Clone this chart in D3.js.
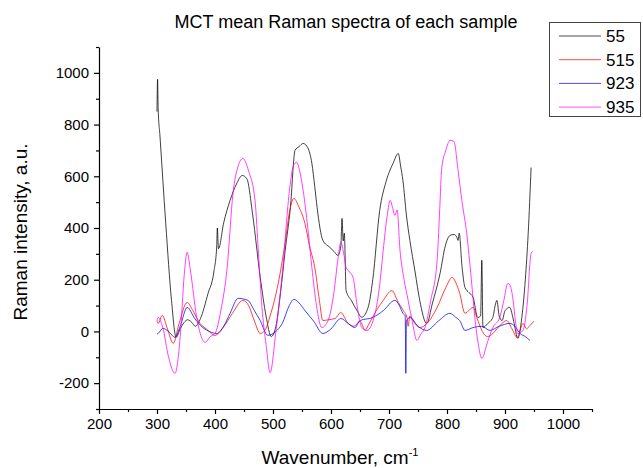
<!DOCTYPE html>
<html>
<head>
<meta charset="utf-8">
<script src="https://cdn.jsdelivr.net/npm/d3@7"></script>
<style>
  html, body { margin: 0; padding: 0; background: #fff; }
  svg { display: block; font-family: "Liberation Sans", Arial, sans-serif; }
</style>
</head>
<body>
<svg id="chart" width="643" height="468"></svg>
<script>
// ---- data ----
const seriesNames = ["55", "515", "923", "935"];
const seriesColors = ["#000000", "#ff0000", "#0000ff", "#ff00ff"];

const s55 = [[300,850],[301,975],[302,860],[305,760],[315,420],[325,120],[333,-23],[340,10],[353,45],[360,35],[366,20],[375,50],[388,147],[398,230],[403,330],[404,400],[406,320],[415,420],[426,507],[437,570],[447,603],[455,590],[465,450],[478,209],[488,60],[497,-20],[505,20],[513,150],[521,313],[530,480],[538,700],[545,715],[552,727],[560,710],[567,650],[572,560],[576,480],[586,352],[598,325],[605,310],[612,294],[617,330],[619,437],[621,350],[623,380],[626,158],[635,120],[645,80],[653,55],[664,93],[672,200],[684,468],[695,580],[707,650],[716,688],[720,640],[724,584],[730,450],[736,352],[745,230],[753,120],[765,31],[775,110],[788,224],[797,330],[805,371],[812,375],[817,364],[819,352],[821,380],[826,248],[831,170],[838,150],[845,132],[853,54],[858,60],[860,275],[862,15],[870,30],[879,54],[883,100],[886,120],[890,60],[895,42],[900,80],[908,93],[915,40],[922,-27],[929,54],[935,200],[940,379],[945,634]];

const s515 = [[300,40],[302,31],[309,62],[318,10],[328,-46],[338,30],[352,112],[362,80],[374,31],[385,10],[400,-15],[414,15],[430,70],[448,120],[458,100],[468,40],[478,-8],[486,4],[495,60],[509,186],[520,330],[530,480],[536,514],[545,480],[555,418],[563,330],[572,248],[580,120],[586,42],[595,45],[607,50],[617,73],[622,60],[628,35],[640,20],[650,40],[659,4],[664,23],[678,80],[690,120],[705,158],[716,112],[725,80],[731,54],[733,20],[736,60],[745,30],[753,15],[765,30],[783,93],[798,170],[809,209],[815,190],[822,147],[831,70],[845,93],[852,50],[860,4],[870,-20],[879,-8],[890,20],[903,42],[912,10],[921,-23],[931,31],[937,10],[943,23],[950,40]];

const s923 = [[300,-10],[302,-8],[310,12],[320,0],[331,-23],[340,20],[352,93],[365,50],[379,15],[390,0],[403,-8],[415,20],[426,70],[440,128],[450,125],[457,120],[468,80],[478,42],[491,-15],[505,0],[516,31],[528,100],[536,124],[545,110],[555,81],[570,40],[586,-8],[600,10],[617,50],[630,30],[641,15],[650,42],[672,54],[690,80],[710,120],[718,100],[724,70],[728,60],[729,-162],[730,40],[736,54],[750,20],[765,4],[785,40],[805,70],[815,55],[822,42],[831,4],[845,15],[860,20],[874,4],[890,20],[908,31],[917,20],[926,-8],[935,-20],[943,-35]];

const s935 = [[300,40],[302,54],[310,15],[320,-100],[331,-162],[340,-20],[347,220],[352,306],[358,230],[368,60],[383,-42],[392,-20],[400,-8],[410,80],[421,248],[431,534],[440,640],[448,669],[458,620],[469,507],[475,300],[481,93],[488,-50],[495,-159],[505,0],[516,224],[529,557],[535,640],[541,654],[546,620],[552,545],[560,400],[567,248],[575,100],[584,15],[595,42],[605,150],[612,280],[617,344],[622,300],[626,248],[632,230],[638,209],[645,100],[653,15],[662,4],[676,70],[684,180],[690,313],[697,450],[702,507],[706,480],[710,449],[714,470],[719,313],[726,200],[733,120],[740,40],[748,-35],[755,-10],[762,15],[772,120],[783,275],[787,450],[791,634],[798,700],[805,739],[812,735],[819,623],[826,500],[834,379],[842,200],[848,54],[854,-50],[860,-104],[870,-40],[879,15],[891,54],[898,120],[905,186],[910,170],[914,120],[918,40],[922,-8],[931,4],[938,100],[945,302],[948,310]];

const allSeries = [s55, s515, s923, s935];

const xMajorTicks = [200,300,400,500,600,700,800,900,1000];
const xMinorTicks = [250,350,450,550,650,750,850,950,1050];
const yMajorTicks = [-200,0,200,400,600,800,1000];
const yMinorTicks = [-300,-100,100,300,500,700,900,1100];

const titleText = "MCT mean Raman spectra of each sample";
const xLabelText = "Wavenumber, cm";
const xLabelSup = "-1";
const yLabelText = "Raman intensity, a.u.";

// ---- layout ----
const svg = d3.select("#chart");
const mLeft = 99, mRight = 592, mTop = 47, mBottom = 409;

const x = d3.scaleLinear().domain([200, 1050]).range([mLeft, mRight]);
const y = d3.scaleLinear().domain([-300, 1100]).range([mBottom, mTop]);

// clip
svg.append("defs").append("clipPath").attr("id", "clip")
  .append("rect").attr("x", mLeft).attr("y", mTop).attr("width", mRight - mLeft).attr("height", mBottom - mTop);

// lines
const line = d3.line().x(d => x(d[0])).y(d => y(d[1])).curve(d3.curveMonotoneX);
const gLines = svg.append("g").attr("clip-path", "url(#clip)");
allSeries.forEach((s, i) => {
  gLines.append("path").datum(s)
    .attr("d", line)
    .attr("fill", "none")
    .attr("stroke", seriesColors[i])
    .attr("stroke-opacity", 0.75)
    .attr("stroke-width", 1);
});

// axes
const plainFmt = d => String(d);
function styleAxis(g) {
  g.selectAll("path.domain").attr("stroke", "#000").attr("stroke-width", 1.2);
  g.selectAll(".tick line").attr("stroke", "#000").attr("stroke-width", 1.2);
  g.selectAll(".tick text").attr("fill", "#000").style("font-size", "15px")
    .style("font-family", "'Liberation Sans', Arial, sans-serif");
}

const gx = svg.append("g").attr("transform", `translate(0,${mBottom})`)
  .call(d3.axisBottom(x).tickValues(xMajorTicks).tickSize(5).tickSizeOuter(0).tickPadding(4).tickFormat(plainFmt));
styleAxis(gx);
const gxm = svg.append("g").attr("transform", `translate(0,${mBottom})`)
  .call(d3.axisBottom(x).tickValues(xMinorTicks).tickSize(3).tickSizeOuter(0).tickFormat(""));
styleAxis(gxm);
gxm.select("path.domain").remove();

const gy = svg.append("g").attr("transform", `translate(${mLeft},0)`)
  .call(d3.axisLeft(y).tickValues(yMajorTicks).tickSize(5).tickSizeOuter(0).tickPadding(5).tickFormat(plainFmt));
styleAxis(gy);
const gym = svg.append("g").attr("transform", `translate(${mLeft},0)`)
  .call(d3.axisLeft(y).tickValues(yMinorTicks).tickSize(3).tickSizeOuter(0).tickFormat(""));
styleAxis(gym);
gym.select("path.domain").remove();

// title
svg.append("text").attr("x", 346).attr("y", 28).attr("text-anchor", "middle")
  .style("font-size", "18px").attr("fill", "#000").text(titleText);

// x label
const xl = svg.append("text").attr("x", 340).attr("y", 464).attr("text-anchor", "middle")
  .style("font-size", "19px").attr("fill", "#000");
xl.append("tspan").text(xLabelText);
xl.append("tspan").attr("dy", -8).style("font-size", "11px").text(xLabelSup);

// y label
svg.append("text").attr("transform", "translate(27,232) rotate(-90)").attr("text-anchor", "middle")
  .style("font-size", "19px").attr("fill", "#000").text(yLabelText);

// legend
const lg = svg.append("g");
lg.append("rect").attr("x", 549.5).attr("y", 22.5).attr("width", 91).attr("height", 94)
  .attr("fill", "#fff").attr("stroke", "#444").attr("stroke-width", 1);
seriesNames.forEach((n, i) => {
  const cy = 36 + i * 23.7;
  lg.append("line").attr("x1", 559).attr("x2", 601).attr("y1", cy).attr("y2", cy)
    .attr("stroke", seriesColors[i]).attr("stroke-opacity", 0.7).attr("stroke-width", 1);
  lg.append("text").attr("x", 606).attr("y", cy + 6).style("font-size", "17px")
    .attr("fill", "#000").text(n);
});
</script>
</body>
</html>
